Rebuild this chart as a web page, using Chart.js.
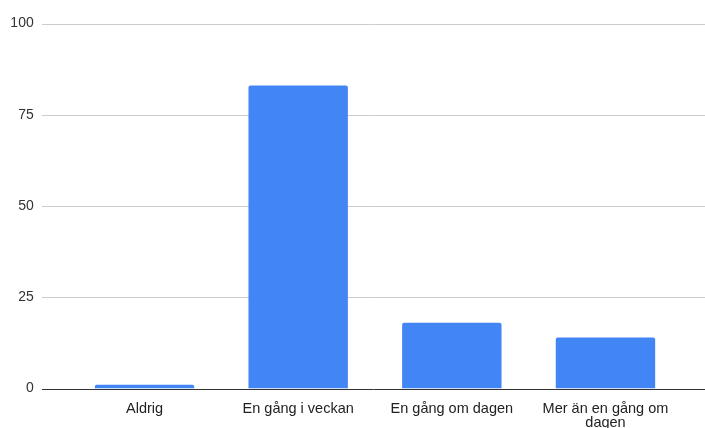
<!DOCTYPE html>
<html>
<head>
<meta charset="utf-8">
<script src="https://cdn.jsdelivr.net/npm/chart.js@4/dist/chart.umd.min.js"></script>
<style>
  html, body { margin: 0; padding: 0; background: #fff; }
  #wrap { width: 705px; height: 428px; }
</style>
</head>
<body>
<div id="wrap"><canvas id="chart"></canvas></div>
<script>
// Datos del gráfico
const categorias = ['Aldrig', 'En gång i veckan', 'En gång om dagen', ['Mer än en gång om', 'dagen']];
const valores = [1, 83, 18, 14];
const yTicks = [0, 25, 50, 75, 100];

// Líneas de cuadrícula que van más allá del área de barras
const gridExtendido = {
    id: 'gridExtendido',
    beforeDatasetsDraw(chart) {
        const { ctx, scales: { y } } = chart;
        ctx.save();
        yTicks.forEach(v => {
            const py = Math.round(y.getPixelForValue(v)) + 0.5;
            ctx.beginPath();
            ctx.strokeStyle = v === 0 ? '#333333' : '#cccccc';
            ctx.lineWidth = 1;
            ctx.moveTo(42, py);
            ctx.lineTo(chart.width, py);
            ctx.stroke();
        });
        ctx.restore();
    }
};

const ctx = document.getElementById('chart').getContext('2d');
new Chart(ctx, {
    type: 'bar',
    data: {
        labels: categorias,
        datasets: [{
            data: valores,
            backgroundColor: '#4285f4',
            borderRadius: { topLeft: 2, topRight: 2 },
            borderSkipped: 'bottom',
            barPercentage: 0.647,
            categoryPercentage: 1
        }]
    },
    options: {
        responsive: true,
        maintainAspectRatio: false,
        animation: false,
        layout: { padding: { top: 23.5, right: 22.7, left: 0, bottom: 0 } },
        plugins: { legend: { display: false }, tooltip: { enabled: false } },
        scales: {
            y: {
                min: 0,
                max: 100,
                ticks: {
                    stepSize: 25,
                    padding: 26,
                    color: '#333333',
                    font: { family: 'Liberation Sans', size: 14 }
                },
                grid: { display: false },
                border: { display: false },
                afterFit(scale) {
                    scale.width = 67.7;
                    scale.paddingTop = 0;
                    scale.paddingBottom = 0;
                }
            },
            x: {
                ticks: {
                    padding: 5,
                    color: '#222222',
                    maxRotation: 0,
                    autoSkip: false,
                    font: { family: 'Liberation Sans', size: 14.5, lineHeight: 1.0 }
                },
                grid: { display: false },
                border: { display: false },
                afterFit(scale) {
                    scale.height = 39.5;
                    scale.paddingLeft = 0;
                    scale.paddingRight = 0;
                }
            }
        }
    },
    plugins: [gridExtendido]
});
</script>
</body>
</html>
